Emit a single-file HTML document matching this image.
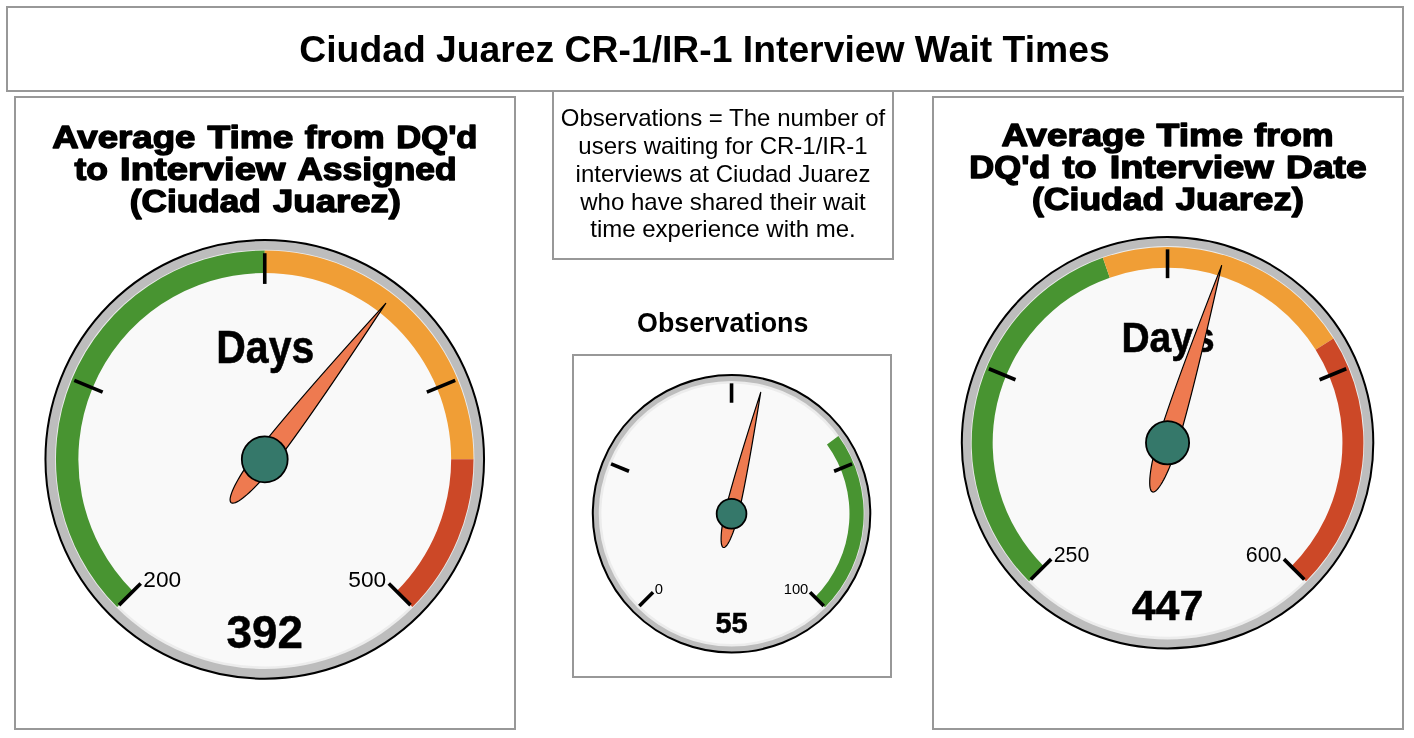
<!DOCTYPE html>
<html><head><meta charset="utf-8"><title>Ciudad Juarez CR-1/IR-1 Interview Wait Times</title>
<style>
html,body{margin:0;padding:0;background:#fff;}
body{width:1414px;height:738px;overflow:hidden;}
svg{display:block;font-family:"Liberation Sans",sans-serif;will-change:transform;}
</style></head><body>
<svg width="1414" height="738" viewBox="0 0 1414 738">
<rect x="7" y="7" width="1396" height="84" fill="none" stroke="#989898" stroke-width="2"/>
<rect x="15" y="97" width="500" height="632" fill="none" stroke="#989898" stroke-width="2"/>
<rect x="553" y="91" width="340" height="168" fill="none" stroke="#989898" stroke-width="2"/>
<rect x="573" y="355" width="318" height="322" fill="none" stroke="#989898" stroke-width="2"/>
<rect x="933" y="97" width="470" height="632" fill="none" stroke="#989898" stroke-width="2"/>
<text x="704.5" y="61.8" font-size="37.3" font-weight="bold" text-anchor="middle">Ciudad Juarez CR-1/IR-1 Interview Wait Times</text>
<text x="52.16" y="147.9" font-size="32" font-weight="bold" stroke="#000" stroke-width="1.4" stroke-linejoin="round" textLength="143.35" lengthAdjust="spacingAndGlyphs">Average</text>
<text x="207.42" y="147.9" font-size="32" font-weight="bold" stroke="#000" stroke-width="1.4" stroke-linejoin="round" textLength="85.87" lengthAdjust="spacingAndGlyphs">Time</text>
<text x="304.8" y="147.9" font-size="32" font-weight="bold" stroke="#000" stroke-width="1.4" stroke-linejoin="round" textLength="79.79" lengthAdjust="spacingAndGlyphs">from</text>
<text x="396.33" y="147.9" font-size="32" font-weight="bold" stroke="#000" stroke-width="1.4" stroke-linejoin="round" textLength="81.15" lengthAdjust="spacingAndGlyphs">DQ&#39;d</text>
<text x="74.44" y="180.4" font-size="32" font-weight="bold" stroke="#000" stroke-width="1.4" stroke-linejoin="round" textLength="33.55" lengthAdjust="spacingAndGlyphs">to</text>
<text x="120.11" y="180.4" font-size="32" font-weight="bold" stroke="#000" stroke-width="1.4" stroke-linejoin="round" textLength="165.43" lengthAdjust="spacingAndGlyphs">Interview</text>
<text x="297.31" y="180.4" font-size="32" font-weight="bold" stroke="#000" stroke-width="1.4" stroke-linejoin="round" textLength="159.4" lengthAdjust="spacingAndGlyphs">Assigned</text>
<text x="129.74" y="212.3" font-size="32" font-weight="bold" stroke="#000" stroke-width="1.4" stroke-linejoin="round" textLength="131.12" lengthAdjust="spacingAndGlyphs">(Ciudad</text>
<text x="273.02" y="212.3" font-size="32" font-weight="bold" stroke="#000" stroke-width="1.4" stroke-linejoin="round" textLength="127.88" lengthAdjust="spacingAndGlyphs">Juarez)</text>
<text x="1001.47" y="145.9" font-size="32" font-weight="bold" stroke="#000" stroke-width="1.4" stroke-linejoin="round" textLength="143.46" lengthAdjust="spacingAndGlyphs">Average</text>
<text x="1156.55" y="145.9" font-size="32" font-weight="bold" stroke="#000" stroke-width="1.4" stroke-linejoin="round" textLength="86.31" lengthAdjust="spacingAndGlyphs">Time</text>
<text x="1254.15" y="145.9" font-size="32" font-weight="bold" stroke="#000" stroke-width="1.4" stroke-linejoin="round" textLength="79.56" lengthAdjust="spacingAndGlyphs">from</text>
<text x="969.33" y="178.4" font-size="32" font-weight="bold" stroke="#000" stroke-width="1.4" stroke-linejoin="round" textLength="81.15" lengthAdjust="spacingAndGlyphs">DQ&#39;d</text>
<text x="1062.45" y="178.4" font-size="32" font-weight="bold" stroke="#000" stroke-width="1.4" stroke-linejoin="round" textLength="34.16" lengthAdjust="spacingAndGlyphs">to</text>
<text x="1109.69" y="178.4" font-size="32" font-weight="bold" stroke="#000" stroke-width="1.4" stroke-linejoin="round" textLength="164.04" lengthAdjust="spacingAndGlyphs">Interview</text>
<text x="1286.02" y="178.4" font-size="32" font-weight="bold" stroke="#000" stroke-width="1.4" stroke-linejoin="round" textLength="80.7" lengthAdjust="spacingAndGlyphs">Date</text>
<text x="1032" y="210.3" font-size="32" font-weight="bold" stroke="#000" stroke-width="1.4" stroke-linejoin="round" textLength="132.29" lengthAdjust="spacingAndGlyphs">(Ciudad</text>
<text x="1175.7" y="210.3" font-size="32" font-weight="bold" stroke="#000" stroke-width="1.4" stroke-linejoin="round" textLength="128.26" lengthAdjust="spacingAndGlyphs">Juarez)</text>
<text x="723" y="125.8" font-size="24" text-anchor="middle">Observations = The number of</text>
<text x="723" y="153.7" font-size="24" text-anchor="middle">users waiting for CR-1/IR-1</text>
<text x="723" y="181.6" font-size="24" text-anchor="middle">interviews at Ciudad Juarez</text>
<text x="723" y="209.5" font-size="24" text-anchor="middle">who have shared their wait</text>
<text x="723" y="237.4" font-size="24" text-anchor="middle">time experience with me.</text>
<text x="722.7" y="332" font-size="26.8" font-weight="bold" text-anchor="middle">Observations</text>
<circle cx="264.75" cy="459.35" r="219.3" fill="#bdbdbd" stroke="#000" stroke-width="2"/>
<circle cx="264.75" cy="459.35" r="209.65" fill="#ececec"/>
<circle cx="264.75" cy="459.35" r="207.05" fill="#f9f9f9"/>
<path d="M117.12,606.98 A208.77,208.77 0 0 1 264.75,250.58 L264.75,272.95 A186.41,186.41 0 0 0 132.94,591.16 Z" fill="#489431"/>
<path d="M264.75,250.58 A208.77,208.77 0 0 1 473.52,459.35 L451.15,459.35 A186.41,186.41 0 0 0 264.75,272.95 Z" fill="#f09e36"/>
<path d="M473.52,459.35 A208.77,208.77 0 0 1 412.38,606.98 L396.56,591.16 A186.41,186.41 0 0 0 451.15,459.35 Z" fill="#cc4827"/>
<line x1="140.7" y1="583.4" x2="118.99" y2="605.11" stroke="#000" stroke-width="3.6"/>
<line x1="102.66" y1="392.21" x2="74.3" y2="380.46" stroke="#000" stroke-width="3.6"/>
<line x1="264.75" y1="283.91" x2="264.75" y2="253.21" stroke="#000" stroke-width="3.6"/>
<line x1="426.84" y1="392.21" x2="455.2" y2="380.46" stroke="#000" stroke-width="3.6"/>
<line x1="388.8" y1="583.4" x2="410.51" y2="605.11" stroke="#000" stroke-width="3.6"/>
<text x="143.33" y="586.91" font-size="22.7" text-anchor="start">200</text>
<text x="386.17" y="586.91" font-size="22.7" text-anchor="end">500</text>
<text transform="translate(265.25,362.64) scale(1,1.14)" font-size="41" font-weight="bold" text-anchor="middle" stroke="#000" stroke-width="0.5">Days</text>
<text x="264.75" y="647.95" font-size="45.8" font-weight="bold" text-anchor="middle" stroke="#000" stroke-width="0.5">392</text>
<path d="M385.72,303.4 Q309.53,419.15 273.24,465.94 L270.58,469.31 L267.88,472.63 L265.16,475.87 L262.44,479 L259.74,482.01 L257.06,484.89 L254.43,487.6 L251.87,490.14 L249.38,492.49 L246.99,494.64 L244.71,496.57 L242.56,498.27 L240.54,499.73 L238.66,500.94 L236.95,501.89 L235.42,502.59 L234.06,503.01 L232.89,503.17 L231.92,503.05 L231.15,502.67 L230.58,502.02 L230.23,501.11 L230.09,499.94 L230.17,498.51 L230.46,496.85 L230.96,494.96 L231.66,492.85 L232.57,490.53 L233.68,488.01 L234.99,485.32 L236.47,482.48 L238.13,479.48 L239.95,476.37 L241.93,473.15 L244.05,469.84 L246.29,466.47 L248.65,463.06 L251.11,459.62 L253.65,456.18 L256.26,452.76 Q292.55,405.98 385.72,303.4 Z" fill="#ee7a50" stroke="#000" stroke-width="1.2" stroke-linejoin="round"/>
<circle cx="264.75" cy="459.35" r="22.93" fill="#35786a" stroke="#000" stroke-width="1.8"/>
<circle cx="731.55" cy="513.75" r="138.75" fill="#bdbdbd" stroke="#000" stroke-width="2"/>
<circle cx="731.55" cy="513.75" r="132.78" fill="#ececec"/>
<circle cx="731.55" cy="513.75" r="130.18" fill="#f9f9f9"/>
<path d="M838.41,436.11 A132.09,132.09 0 0 1 824.95,607.15 L814.94,597.14 A117.94,117.94 0 0 0 826.96,444.43 Z" fill="#489431"/>
<line x1="653.06" y1="592.24" x2="639.33" y2="605.97" stroke="#000" stroke-width="3.6"/>
<line x1="629" y1="471.27" x2="611.05" y2="463.84" stroke="#000" stroke-width="3.6"/>
<line x1="731.55" y1="402.75" x2="731.55" y2="383.33" stroke="#000" stroke-width="3.6"/>
<line x1="834.1" y1="471.27" x2="852.05" y2="463.84" stroke="#000" stroke-width="3.6"/>
<line x1="810.04" y1="592.24" x2="823.77" y2="605.97" stroke="#000" stroke-width="3.6"/>
<text x="654.73" y="594.46" font-size="14.8" text-anchor="start">0</text>
<text x="808.37" y="594.46" font-size="14.8" text-anchor="end">100</text>
<text x="731.55" y="633.08" font-size="29" font-weight="bold" text-anchor="middle" stroke="#000" stroke-width="0.5">55</text>
<path d="M760.7,392.33 Q746.91,478.91 738.16,515.34 L737.51,517.98 L736.81,520.59 L736.09,523.17 L735.34,525.68 L734.56,528.12 L733.76,530.48 L732.96,532.73 L732.14,534.86 L731.32,536.86 L730.5,538.72 L729.69,540.43 L728.88,541.97 L728.1,543.34 L727.34,544.52 L726.6,545.52 L725.89,546.32 L725.22,546.92 L724.59,547.31 L724,547.5 L723.45,547.48 L722.96,547.25 L722.52,546.82 L722.13,546.18 L721.81,545.34 L721.54,544.3 L721.33,543.08 L721.19,541.68 L721.11,540.1 L721.1,538.37 L721.15,536.48 L721.26,534.45 L721.44,532.29 L721.68,530.02 L721.98,527.65 L722.34,525.19 L722.76,522.66 L723.23,520.08 L723.75,517.46 L724.32,514.81 L724.94,512.16 Q733.68,475.74 760.7,392.33 Z" fill="#ee7a50" stroke="#000" stroke-width="1.2" stroke-linejoin="round"/>
<circle cx="731.55" cy="513.75" r="14.88" fill="#35786a" stroke="#000" stroke-width="1.8"/>
<circle cx="1167.55" cy="442.75" r="205.75" fill="#bdbdbd" stroke="#000" stroke-width="2"/>
<circle cx="1167.55" cy="442.75" r="196.7" fill="#ececec"/>
<circle cx="1167.55" cy="442.75" r="194.1" fill="#f9f9f9"/>
<path d="M1029.05,581.25 A195.87,195.87 0 0 1 1102.86,257.87 L1109.79,277.68 A174.89,174.89 0 0 0 1043.89,566.41 Z" fill="#489431"/>
<path d="M1102.86,257.87 A195.87,195.87 0 0 1 1333.4,338.54 L1315.63,349.7 A174.89,174.89 0 0 0 1109.79,277.68 Z" fill="#f09e36"/>
<path d="M1333.4,338.54 A195.87,195.87 0 0 1 1306.05,581.25 L1291.21,566.41 A174.89,174.89 0 0 0 1315.63,349.7 Z" fill="#cc4827"/>
<line x1="1051.16" y1="559.14" x2="1030.79" y2="579.51" stroke="#000" stroke-width="3.6"/>
<line x1="1015.48" y1="379.76" x2="988.87" y2="368.74" stroke="#000" stroke-width="3.6"/>
<line x1="1167.55" y1="278.15" x2="1167.55" y2="249.34" stroke="#000" stroke-width="3.6"/>
<line x1="1319.62" y1="379.76" x2="1346.23" y2="368.74" stroke="#000" stroke-width="3.6"/>
<line x1="1283.94" y1="559.14" x2="1304.31" y2="579.51" stroke="#000" stroke-width="3.6"/>
<text x="1053.63" y="562.43" font-size="21.4" text-anchor="start">250</text>
<text x="1281.47" y="562.43" font-size="21.4" text-anchor="end">600</text>
<text transform="translate(1168.05,352.01) scale(1,1.1)" font-size="39" font-weight="bold" text-anchor="middle" stroke="#000" stroke-width="0.5">Days</text>
<text x="1167.55" y="619.69" font-size="43" font-weight="bold" text-anchor="middle" stroke="#000" stroke-width="0.5">447</text>
<path d="M1221.6,265.64 Q1193.41,392.56 1177.19,445.69 L1175.98,449.54 L1174.73,453.35 L1173.42,457.1 L1172.08,460.75 L1170.71,464.3 L1169.33,467.71 L1167.93,470.96 L1166.53,474.05 L1165.13,476.94 L1163.75,479.62 L1162.4,482.07 L1161.07,484.28 L1159.79,486.24 L1158.55,487.92 L1157.37,489.33 L1156.25,490.45 L1155.2,491.28 L1154.23,491.8 L1153.34,492.03 L1152.54,491.95 L1151.83,491.56 L1151.21,490.88 L1150.7,489.9 L1150.29,488.63 L1149.99,487.08 L1149.79,485.25 L1149.71,483.16 L1149.74,480.82 L1149.87,478.25 L1150.11,475.46 L1150.47,472.46 L1150.92,469.29 L1151.48,465.95 L1152.14,462.46 L1152.9,458.86 L1153.74,455.15 L1154.67,451.37 L1155.68,447.54 L1156.76,443.68 L1157.91,439.81 Q1174.12,386.67 1221.6,265.64 Z" fill="#ee7a50" stroke="#000" stroke-width="1.2" stroke-linejoin="round"/>
<circle cx="1167.55" cy="442.75" r="21.58" fill="#35786a" stroke="#000" stroke-width="1.8"/>
</svg>
</body></html>
